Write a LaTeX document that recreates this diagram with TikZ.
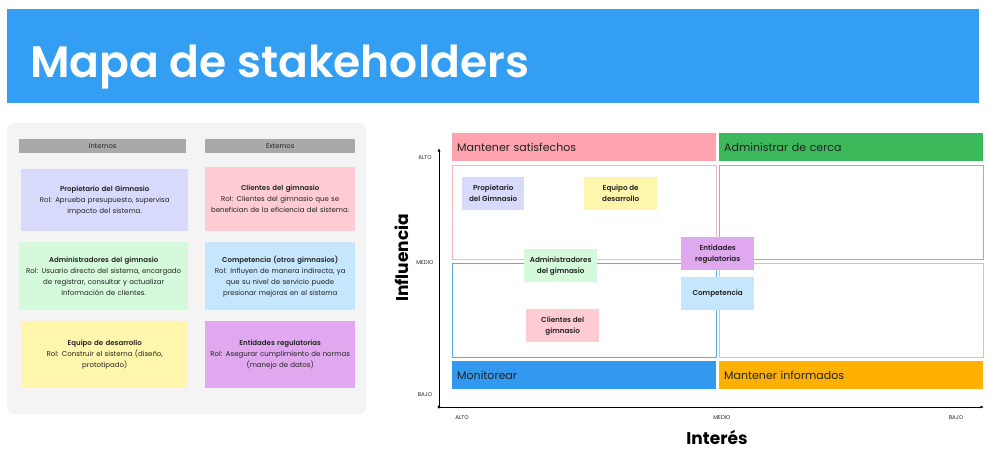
\documentclass[tikz,border=0pt]{standalone}
\usepackage{fontspec}
\setmainfont{Poppins}
\newfontfamily\titlefont{Poppins SemiBold}
\usepackage{xcolor}
\usepackage{tikz}
\usetikzlibrary{positioning,calc,arrows.meta}

\definecolor{titleblue}{HTML}{349EF2}
\definecolor{panelgray}{HTML}{F4F4F4}
\definecolor{headgray}{HTML}{A9A9A9}
\definecolor{lavender}{HTML}{D7DAFB}
\definecolor{softpink}{HTML}{FFCCD3}
\definecolor{softgreen}{HTML}{D5FADB}
\definecolor{softblue}{HTML}{C6E6FD}
\definecolor{softyellow}{HTML}{FFF6AE}
\definecolor{softpurple}{HTML}{E0A8EE}
\definecolor{pinkband}{HTML}{FFA3AE}
\definecolor{greenband}{HTML}{3DB95C}
\definecolor{blueband}{HTML}{3399EE}
\definecolor{orangeband}{HTML}{FFB000}
\definecolor{pinkline}{HTML}{F6B9C1}
\definecolor{greenline}{HTML}{7DC990}
\definecolor{blueline}{HTML}{5DAEDD}
\definecolor{yellowline}{HTML}{EDC95A}
\definecolor{inkgray}{HTML}{222222}

\begin{document}
\begin{tikzpicture}[x=1pt, y=-1pt,
		head/.style={fill=headgray, minimum height=14pt, anchor=north west, inner sep=0pt, text=inkgray, font=\fontsize{6.8}{8}\selectfont},
		card/.style={fill=#1, anchor=north west, inner ysep=0pt, inner xsep=3pt, align=center, text=inkgray, font=\fontsize{7}{11}\selectfont},
		sticky/.style={fill=#1, anchor=north west, minimum width=73pt, minimum height=33pt, inner sep=0pt, align=center, text=inkgray, font=\titlefont\fontsize{7.2}{11}\selectfont},
		band/.style={fill=#1, anchor=north west, minimum height=28pt, text width=254pt, inner xsep=5pt, inner ysep=0pt, align=left, text=inkgray, font=\fontsize{11}{13}\selectfont},
		zone/.style={draw=#1, line width=0.9pt, anchor=north west, minimum width=264pt, minimum height=94pt, inner sep=0pt},
		level/.style={text=inkgray, font=\fontsize{5.5}{6}\selectfont},
		axis/.style={line width=0.8pt, -{Latex[length=3.5pt,width=3pt]}},
		axtitle/.style={font=\bfseries\fontsize{17}{20}\selectfont}]
	\useasboundingbox (0,0) rectangle (989,453);

	% banner
	\node[fill=titleblue, anchor=north west, minimum width=972pt, minimum height=94pt, inner sep=0pt] (banner) at (7,9) {};
	\node[anchor=base west, text=white, inner sep=0pt, font=\titlefont\fontsize{44}{50}\selectfont] (title) at (30,77) {Mapa de stakeholders};

	% left panel
	\node[fill=panelgray, rounded corners=7pt, anchor=north west, minimum width=359pt, minimum height=291pt, inner sep=0pt] (panel) at (7,123) {};
	\node[head, minimum width=167pt] (internos) at (19,139) {Internos};
	\node[head, minimum width=150pt] (externos) at (205,139) {Externos};

	\node[card=lavender, text width=161pt, minimum height=62pt] (propcard) at (21,169) {{\titlefont Propietario del Gimnasio}\\Rol: Aprueba presupuesto, supervisa\\impacto del sistema.};
	\node[card=softgreen, text width=163pt, minimum height=68pt] (admcard) at (19,242) {{\titlefont Administradores del gimnasio}\\Rol: Usuario directo del sistema, encargado\\de registrar, consultar y actualizar\\información de clientes.};
	\node[card=softyellow, text width=161pt, minimum height=67pt] (equcard) at (21,321) {{\titlefont Equipo de desarrollo}\\Rol: Construir el sistema (diseño,\\prototipado)};
	\node[card=softpink, text width=144pt, minimum height=64pt] (clicard) at (205,167) {{\titlefont Clientes del gimnasio}\\Rol: Clientes del gimnasio que se\\benefician de la eficiencia del sistema.};
	\node[card=softblue, text width=144pt, minimum height=68pt] (comcard) at (205,242) {{\titlefont Competencia (otros gimnasios)}\\Rol: Influyen de manera indirecta, ya\\que su nivel de servicio puede\\presionar mejoras en el sistema};
	\node[card=softpurple, text width=144pt, minimum height=67pt] (entcard) at (205,321) {{\titlefont Entidades regulatorias}\\Rol: Asegurar cumplimiento de normas\\(manejo de datos)};

	% matrix
	\node[band=pinkband] (satis) at (452,133) {Mantener satisfechos};
	\node[band=greenband] (cerca) at (719,133) {Administrar de cerca};
	\node[zone=pinkline] (zsatis) at (452,165) {};
	\node[zone=greenline] (zcerca) at (719,165) {};
	\node[zone=blueline] (zmonit) at (452,263) {};
	\node[zone=yellowline] (zinfor) at (719,263) {};
	\node[band=blueband] (monit) at (452,361) {Monitorear};
	\node[band=orangeband] (infor) at (719,361) {Mantener informados};

	\node[sticky=lavender, minimum width=62pt] (prop) at (462,177) {Propietario\\del Gimnasio};
	\node[sticky=softyellow] (equipo) at (584,177) {Equipo de\\desarrollo};
	\node[sticky=softgreen] (admin) at (524,249) {Administradores\\del gimnasio};
	\node[sticky=softpink] (clientes) at (526,309) {Clientes del\\gimnasio};
	\node[sticky=softpurple] (entidades) at (681,237) {Entidades\\regulatorias};
	\node[sticky=softblue] (compet) at (681,277) {Competencia};

	% axes
	\coordinate (origin) at (439,407);
	\coordinate (ytop) at (439,148);
	\coordinate (xend) at (984,407);
	\draw[axis] (origin) -- (ytop);
	\draw[axis] (origin) -- (xend);
	\fill (origin) circle (1.6);

	\node[level] (yalto) at (425,158) {ALTO};
	\node[level] (ymedio) at (425,263) {MEDIO};
	\node[level] (ybajo) at (425,395) {BAJO};
	\node[level] (xalto) at (462,418) {ALTO};
	\node[level] (xmedio) at (722,418) {MEDIO};
	\node[level] (xbajo) at (956,418) {BAJO};

	\node[axtitle, rotate=90] (influencia) at (402,258) {Influencia};
	\node[axtitle] (interes) at (717,437) {Interés};
\end{tikzpicture}
\end{document}
